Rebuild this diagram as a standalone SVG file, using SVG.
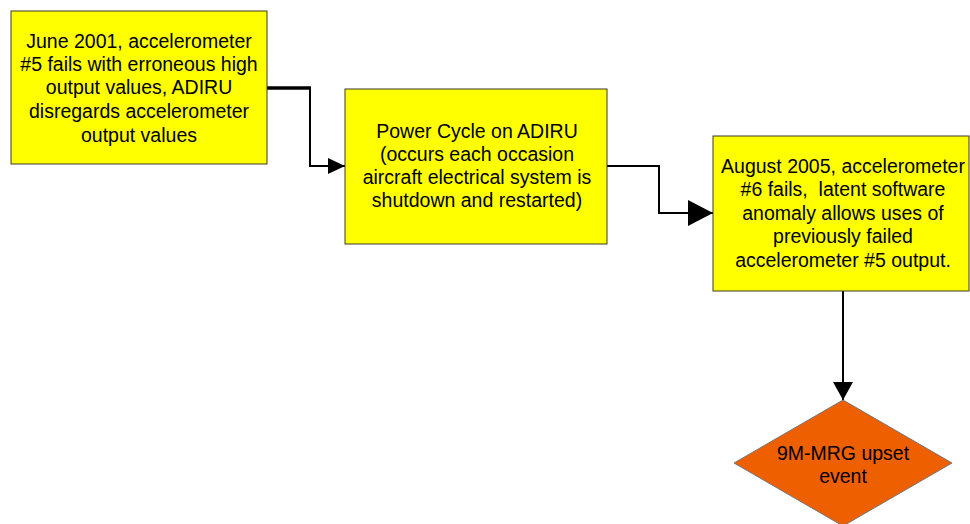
<svg xmlns="http://www.w3.org/2000/svg" width="970" height="524" viewBox="0 0 970 524">
<style>
.box{fill:#FFFF00;stroke:#3a3a2a;stroke-width:1}
.dia{fill:#EE5F00;stroke:#777;stroke-width:1}
.t{font-family:"Liberation Sans",Arial,sans-serif;font-size:19.5px;fill:#000;text-anchor:middle}
.c{fill:none;stroke:#000;stroke-width:2}
</style>
<defs>
<marker id="a1" markerUnits="userSpaceOnUse" markerWidth="18" markerHeight="16" refX="17" refY="8" orient="auto"><path d="M0,0 L17,8 L0,16 Z" fill="#000"/></marker>
<marker id="a2" markerUnits="userSpaceOnUse" markerWidth="26" markerHeight="26" refX="25" refY="13" orient="auto"><path d="M0,0 L25,13 L0,26 Z" fill="#000"/></marker>
<marker id="a3" markerUnits="userSpaceOnUse" markerWidth="20" markerHeight="20" refX="18" refY="10" orient="auto"><path d="M0,0 L18,10 L0,20 Z" fill="#000"/></marker>
</defs>
<g id="connectors">
<path d="M267,88 H311" fill="none" stroke="#000" stroke-width="3.5"/>
<path class="c" d="M310,88 V166 H345" marker-end="url(#a1)"/>
<path class="c" d="M607,166 H659 V213 H713" marker-end="url(#a2)"/>
<path class="c" d="M843,291 V400" marker-end="url(#a3)"/>
</g>
<g id="n1">
<rect class="box" x="11" y="11" width="256" height="153"/>
<text class="t"><tspan x="139" y="48">June 2001, accelerometer</tspan><tspan x="139" y="71">#5 fails with erroneous high</tspan><tspan x="139" y="94">output values, ADIRU</tspan><tspan x="139" y="118">disregards accelerometer</tspan><tspan x="139" y="142">output values</tspan></text>
</g>
<g id="n2">
<rect class="box" x="345" y="89" width="262" height="155"/>
<text class="t"><tspan x="477" y="138">Power Cycle on ADIRU</tspan><tspan x="477" y="161">(occurs each occasion</tspan><tspan x="477" y="184">aircraft electrical system is</tspan><tspan x="477" y="207">shutdown and restarted)</tspan></text>
</g>
<g id="n3">
<rect class="box" x="713" y="136" width="256" height="155"/>
<text class="t" xml:space="preserve"><tspan x="843" y="173">August 2005, accelerometer</tspan><tspan x="843" y="196">#6 fails,  latent software</tspan><tspan x="843" y="220">anomaly allows uses of</tspan><tspan x="843" y="243">previously failed</tspan><tspan x="843" y="267">accelerometer #5 output.</tspan></text>
</g>
<g id="n4">
<polygon class="dia" points="843,400 952,463 843,526 734,463"/>
<text class="t"><tspan x="843" y="460">9M-MRG upset</tspan><tspan x="843" y="483">event</tspan></text>
</g>
</svg>
